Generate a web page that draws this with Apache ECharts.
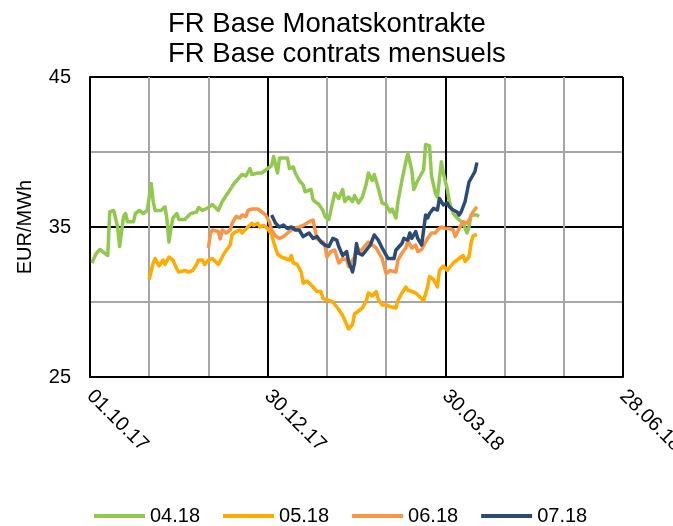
<!DOCTYPE html>
<html>
<head>
<meta charset="utf-8">
<script src="https://cdn.jsdelivr.net/npm/echarts@6/dist/echarts.min.js"></script>
<style>
  html, body { margin: 0; padding: 0; background: #fff; }
  #chart { width: 673px; height: 526px; }
</style>
</head>
<body>
<div id="chart"></div>
<script>
// days since 01.10.17
const xTicks = [0, 90, 180, 270];
const yTicks = [25, 35, 45];
const seriesNames = ['04.18', '05.18', '06.18', '07.18'];

const days0418 = [1,3,5,7,9,10,12,14,15,17,18,19,22,23,25,27,28,29,31,32,33,34,36,38,39,40,41,42,44,45,48,49,51,54,55,57,58,60,62,63,65,67,69,71,73,75,77,79,81,82,85,87,89,92,93,95,96,98,100,101,103,104,106,108,109,112,113,116,118,119,121,123,124,126,128,129,131,133,134,136,138,140,141,143,144,146,148,150,152,153,155,156,158,160,161,163,164,166,167,169,170,172,173,175,176,178,179,181,182,184,186,187,189,191,192,193,196,197];
const vals0418 = [32.6,33.2,33.5,33.3,33.1,36.0,36.1,35.0,33.7,35.7,35.9,35.35,35.35,35.9,36.1,35.9,35.8,36.1,37.9,36.7,36.1,36.2,36.1,36.35,35.5,34.0,34.9,35.6,35.9,35.5,35.5,35.6,35.9,36.0,36.3,36.1,36.0,36.3,36.5,36.6,36.1,36.7,37.1,37.5,37.9,38.2,38.5,38.4,38.9,38.5,38.6,38.6,38.8,39.1,39.7,38.6,39.6,39.6,39.6,38.9,39.0,38.6,38.1,37.8,37.35,37.5,36.8,36.5,36.1,35.7,35.5,36.7,37.25,36.9,37.5,36.7,37.0,36.7,37.1,36.6,37.0,37.9,38.6,38.1,38.5,37.6,36.6,36.5,36.0,36.2,35.6,36.7,38.1,39.35,39.9,38.8,37.5,38.1,38.2,38.8,40.5,40.4,38.4,37.25,37.0,39.35,38.6,37.5,36.7,35.9,35.6,35.7,35.25,34.6,35.0,35.8,35.8,35.7];

const days0518 = [30,32,33,35,37,38,40,42,44,45,48,50,52,54,55,57,58,60,62,63,65,68,71,72,74,76,77,80,82,83,85,86,88,90,91,92,93,95,97,98,99,101,102,103,104,105,107,108,110,111,113,115,117,118,121,123,126,128,129,131,133,134,136,138,140,141,143,145,146,148,150,152,155,156,158,160,161,163,165,166,169,171,172,174,176,177,179,181,182,184,186,187,189,190,192,193,194,196];
const vals0518 = [31.5,32.6,32.9,32.4,32.8,32.5,33.0,32.8,32.2,32.0,32.1,32.0,32.1,32.5,32.8,32.8,32.5,32.8,32.9,32.9,32.5,33.25,33.8,34.5,34.7,34.8,34.6,35.0,35.25,35.1,35.25,35.0,35.1,34.9,34.7,34.5,34.0,33.2,33.0,32.9,32.9,32.8,33.1,32.6,32.6,32.5,32.0,31.25,31.4,31.47,31.0,30.7,30.7,30.24,30.1,30.0,29.5,29.1,28.8,28.2,28.5,29.2,29.4,29.6,30.1,30.6,30.4,30.7,30.2,29.8,29.8,29.7,29.6,30.1,30.6,31.0,30.8,30.7,30.6,30.7,30.1,31.0,31.7,31.5,31.0,32.1,32.4,32.1,32.1,32.6,32.8,32.7,33.1,32.7,33.0,33.9,34.4,34.5];

const days0618 = [60,61,62,65,66,67,69,71,72,74,76,77,79,80,82,85,86,87,89,91,92,93,94,96,98,99,101,102,103,104,106,108,109,111,112,113,114,115,116,118,119,120,122,124,126,128,130,131,134,135,137,139,141,143,145,146,148,150,152,155,156,158,160,161,163,165,166,168,170,171,173,175,176,178,180,182,184,185,187,189,191,192,194,196];
const vals0618 = [33.6,34.6,34.8,34.7,34.2,34.8,34.6,34.8,35.25,35.7,35.6,35.8,35.7,36.1,36.2,36.2,36.13,36.0,35.8,35.3,34.8,34.6,34.4,34.24,34.36,34.4,34.7,34.8,34.9,34.9,35.0,35.1,35.1,35.35,35.4,35.47,34.8,34.2,34.2,34.0,33.8,33.0,33.36,33.47,32.6,32.9,32.8,32.36,33.0,33.7,33.36,33.7,34.0,33.8,33.6,33.36,32.9,31.9,32.1,32.0,32.8,33.25,33.6,34.1,33.6,33.8,33.36,33.5,34.0,34.24,34.6,34.6,34.8,35.0,34.9,34.9,34.8,34.36,34.9,35.35,35.25,35.47,36.0,36.35];

const days0718 = [92,94,96,98,100,102,104,106,108,109,111,113,115,117,119,121,123,125,126,127,128,130,131,133,134,135,136,138,140,142,144,146,148,150,151,154,155,158,159,161,162,163,165,166,168,170,171,172,174,176,177,179,181,182,184,186,187,188,190,192,193,195,196];
const vals0718 = [35.8,35.25,35.0,35.13,34.9,35.0,34.8,34.8,34.36,34.36,34.6,34.24,34.36,34.0,33.8,33.7,34.24,34.13,33.7,33.8,33.1,33.36,32.7,32.0,32.6,33.9,33.25,33.13,33.47,33.8,34.47,34.13,33.6,33.13,32.9,32.9,33.47,33.9,34.24,34.13,34.6,34.24,34.7,34.24,33.8,35.8,35.6,35.9,36.24,36.13,36.9,36.47,36.6,36.35,36.13,36.0,35.8,36.0,36.7,38.0,38.1,38.7,39.3];

const colors = ['#92c84e', '#ffab00', '#f79646', '#2b4a74'];
const baseDate = Date.UTC(2017, 9, 1);

function pairs(days, vals) {
  return days.map((d, i) => [d, vals[i]]);
}
function dayLabel(d) {
  const dt = new Date(baseDate + d * 86400000);
  const dd = String(dt.getUTCDate()).padStart(2, '0');
  const mm = String(dt.getUTCMonth() + 1).padStart(2, '0');
  const yy = String(dt.getUTCFullYear()).slice(2);
  return dd + '.' + mm + '.' + yy;
}

const allData = [
  pairs(days0418, vals0418),
  pairs(days0518, vals0518),
  pairs(days0618, vals0618),
  pairs(days0718, vals0718)
];

const chart = echarts.init(document.getElementById('chart'));
const font = 'Liberation Sans, Arial, sans-serif';

chart.setOption({
  animation: false,
  textStyle: { fontFamily: font },
  title: {
    text: 'FR Base Monatskontrakte\nFR Base contrats mensuels',
    left: 168,
    top: 9,
    padding: 0,
    textStyle: { fontSize: 27.5, fontWeight: 'normal', color: '#000', lineHeight: 30, fontFamily: font }
  },
  legend: {
    left: 94,
    top: 506,
    icon: 'rect',
    itemWidth: 51,
    itemHeight: 4,
    itemGap: 23,
    padding: 0,
    textStyle: { fontSize: 20, color: '#000', fontFamily: font },
    data: seriesNames
  },
  grid: { left: 90, right: 50, top: 77, bottom: 149, containLabel: false, outerBoundsMode: 'none' },
  xAxis: {
    type: 'value',
    min: xTicks[0],
    max: xTicks[xTicks.length - 1],
    interval: 90,
    axisLine: { show: true, lineStyle: { color: '#000', width: 2 } },
    axisTick: { show: false },
    axisLabel: {
      rotate: -45,
      margin: 16,
      fontSize: 20,
      color: '#000',
      fontFamily: font,
      formatter: v => xTicks.includes(v) ? dayLabel(v) : ''
    },
    splitLine: { show: true, lineStyle: { color: '#000', width: 2 } },
    minorTick: { show: false, splitNumber: 3 },
    minorSplitLine: { show: true, lineStyle: { color: '#a6a6a6', width: 2 } }
  },
  yAxis: {
    type: 'value',
    min: yTicks[0],
    max: yTicks[yTicks.length - 1],
    interval: 10,
    name: 'EUR/MWh',
    nameLocation: 'middle',
    nameRotate: 90,
    nameGap: 55,
    nameTextStyle: { fontSize: 20, color: '#000', fontFamily: font },
    axisLine: { show: true, lineStyle: { color: '#000', width: 2 } },
    axisTick: { show: false },
    axisLabel: { margin: 19, fontSize: 20, color: '#000', fontFamily: font },
    splitLine: { show: true, lineStyle: { color: '#000', width: 2 } },
    minorTick: { show: false, splitNumber: 2 },
    minorSplitLine: { show: true, lineStyle: { color: '#a6a6a6', width: 2 } }
  },
  series: seriesNames.map((name, i) => ({
    name: name,
    type: 'line',
    data: allData[i],
    showSymbol: false,
    symbol: 'none',
    color: colors[i],
    lineStyle: { width: 3.5, color: colors[i], join: 'round' }
  }))
});
</script>
</body>
</html>
